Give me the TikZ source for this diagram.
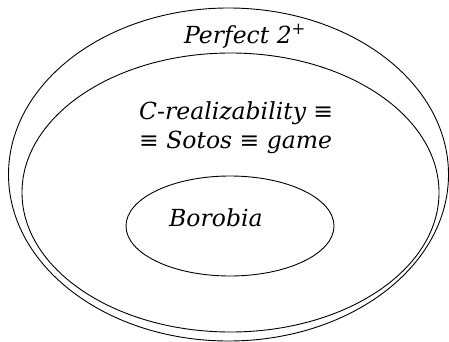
\documentclass[tikz,border=0pt]{standalone}
\usepackage{fontspec}
\setmainfont{DejaVu Serif}
\begin{document}
\begin{tikzpicture}[x=1pt,y=-1pt,
  setline/.style={draw=black,line width=0.9pt},
  lbl/.style={anchor=base west,inner sep=0pt,font=\itshape\fontsize{23.5}{28}\selectfont}]
\useasboundingbox (0,0) rectangle (449,342);
\draw[setline] (228.5,174.5) ellipse [x radius=220, y radius=166.5];
\draw[setline] (230.5,192.5) ellipse [x radius=208.5, y radius=139.5];
\draw[setline] (230,226) ellipse [x radius=104, y radius=50];
\node[lbl] (perfect) at (184,44) {Perfect 2\textsuperscript{+}};
\node[lbl] (creal) at (139,119) {C-realizability {\upshape≡}};
\node[lbl] (sotos) at (139,148) {{\upshape≡} Sotos {\upshape≡} game};
\node[lbl] (boro) at (169,226) {Borobia};
\end{tikzpicture}
\end{document}
